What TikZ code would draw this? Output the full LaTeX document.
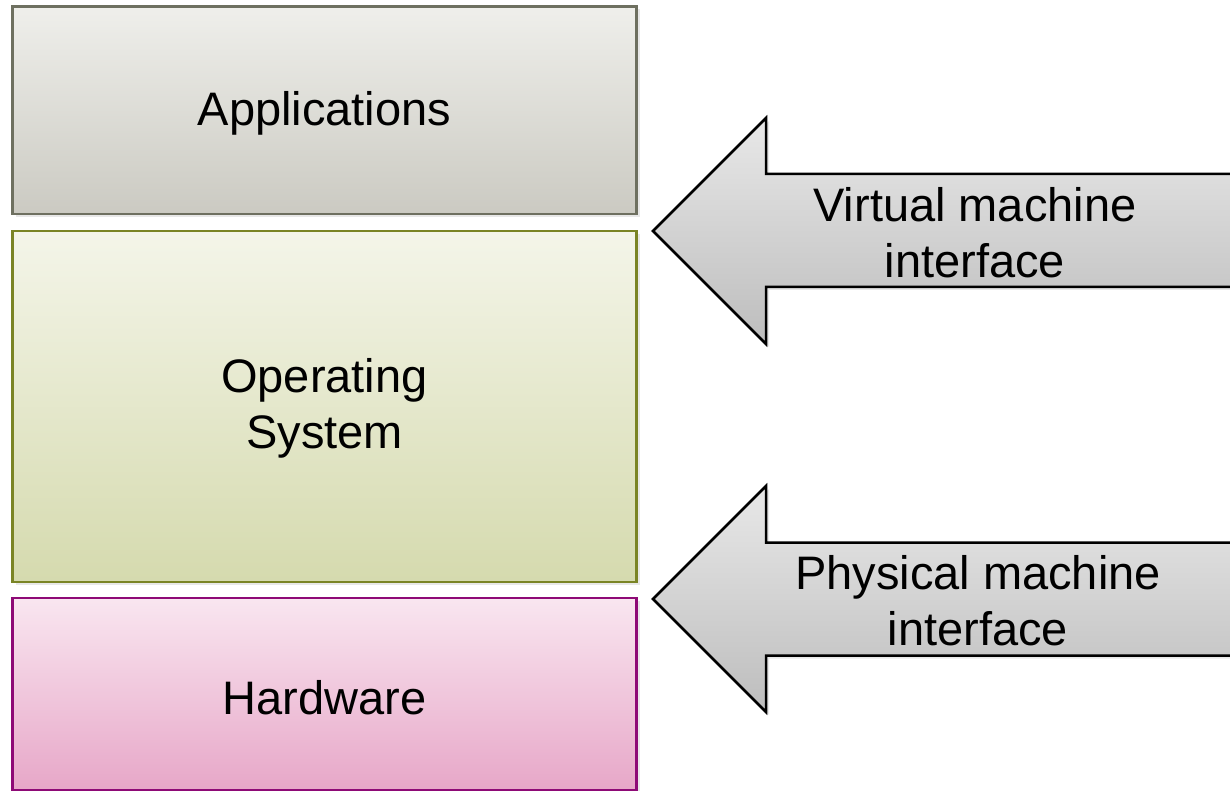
\documentclass[tikz,border=0pt]{standalone}
\usepackage{fontspec}
\setmainfont{Liberation Sans}
\usetikzlibrary{shadows}
\definecolor{appTop}{HTML}{EFEFEB}
\definecolor{appBot}{HTML}{CBCAC2}
\definecolor{appLine}{HTML}{6E7060}
\definecolor{osTop}{HTML}{F4F5E9}
\definecolor{osBot}{HTML}{D5DAAE}
\definecolor{osLine}{HTML}{7A8425}
\definecolor{hwTop}{HTML}{F9E6F0}
\definecolor{hwBot}{HTML}{E7A7C8}
\definecolor{hwLine}{HTML}{8E0A76}
\definecolor{arTop}{HTML}{E8E8E8}
\definecolor{arBot}{HTML}{BDBDBD}
\tikzset{
  layer/.style={line width=2.5pt, drop shadow={opacity=0.18, shadow xshift=3pt, shadow yshift=-3pt}},
  bigarrow/.style={draw=black, line width=2.5pt, line join=miter, top color=arTop, bottom color=arBot,
     drop shadow={opacity=0.18, shadow xshift=3pt, shadow yshift=-3pt}},
  label/.style={font=\fontsize{47}{56}\selectfont, align=center, text=black, inner sep=0pt}
}
\begin{document}
\begin{tikzpicture}[x=1pt, y=-1pt]
\useasboundingbox (0,0) rectangle (1230,791);
\clip (0,0) rectangle (1230,791);
\fill[white] (0,0) rectangle (1230,791);
% layers
\path[layer, draw=appLine, top color=appTop, bottom color=appBot] (12.5,6.5) rectangle (636.5,214);
\path[layer, draw=osLine, top color=osTop, bottom color=osBot] (12.5,231) rectangle (636.5,582);
\path[layer, draw=hwLine, top color=hwTop, bottom color=hwBot] (12.5,598) rectangle (636.5,790);
\node[label] (apps) at (324.5,113) {Applications};
\node[label] (os) at (324.5,408) {Operating\\System};
\node[label] (hw) at (324.5,698) {Hardware};
% arrows
\path[bigarrow] (653,231) -- (766,118) -- (766,174) -- (1240,174) -- (1240,287) -- (766,287) -- (766,344) -- cycle;
\path[bigarrow] (653,599) -- (766,486) -- (766,542.5) -- (1240,542.5) -- (1240,655.5) -- (766,655.5) -- (766,712) -- cycle;
\node[label] (vmi) at (975,233) {Virtual machine\\interface};
\node[label] (pmi) at (978,601) {Physical machine\\interface};
\end{tikzpicture}
\end{document}
